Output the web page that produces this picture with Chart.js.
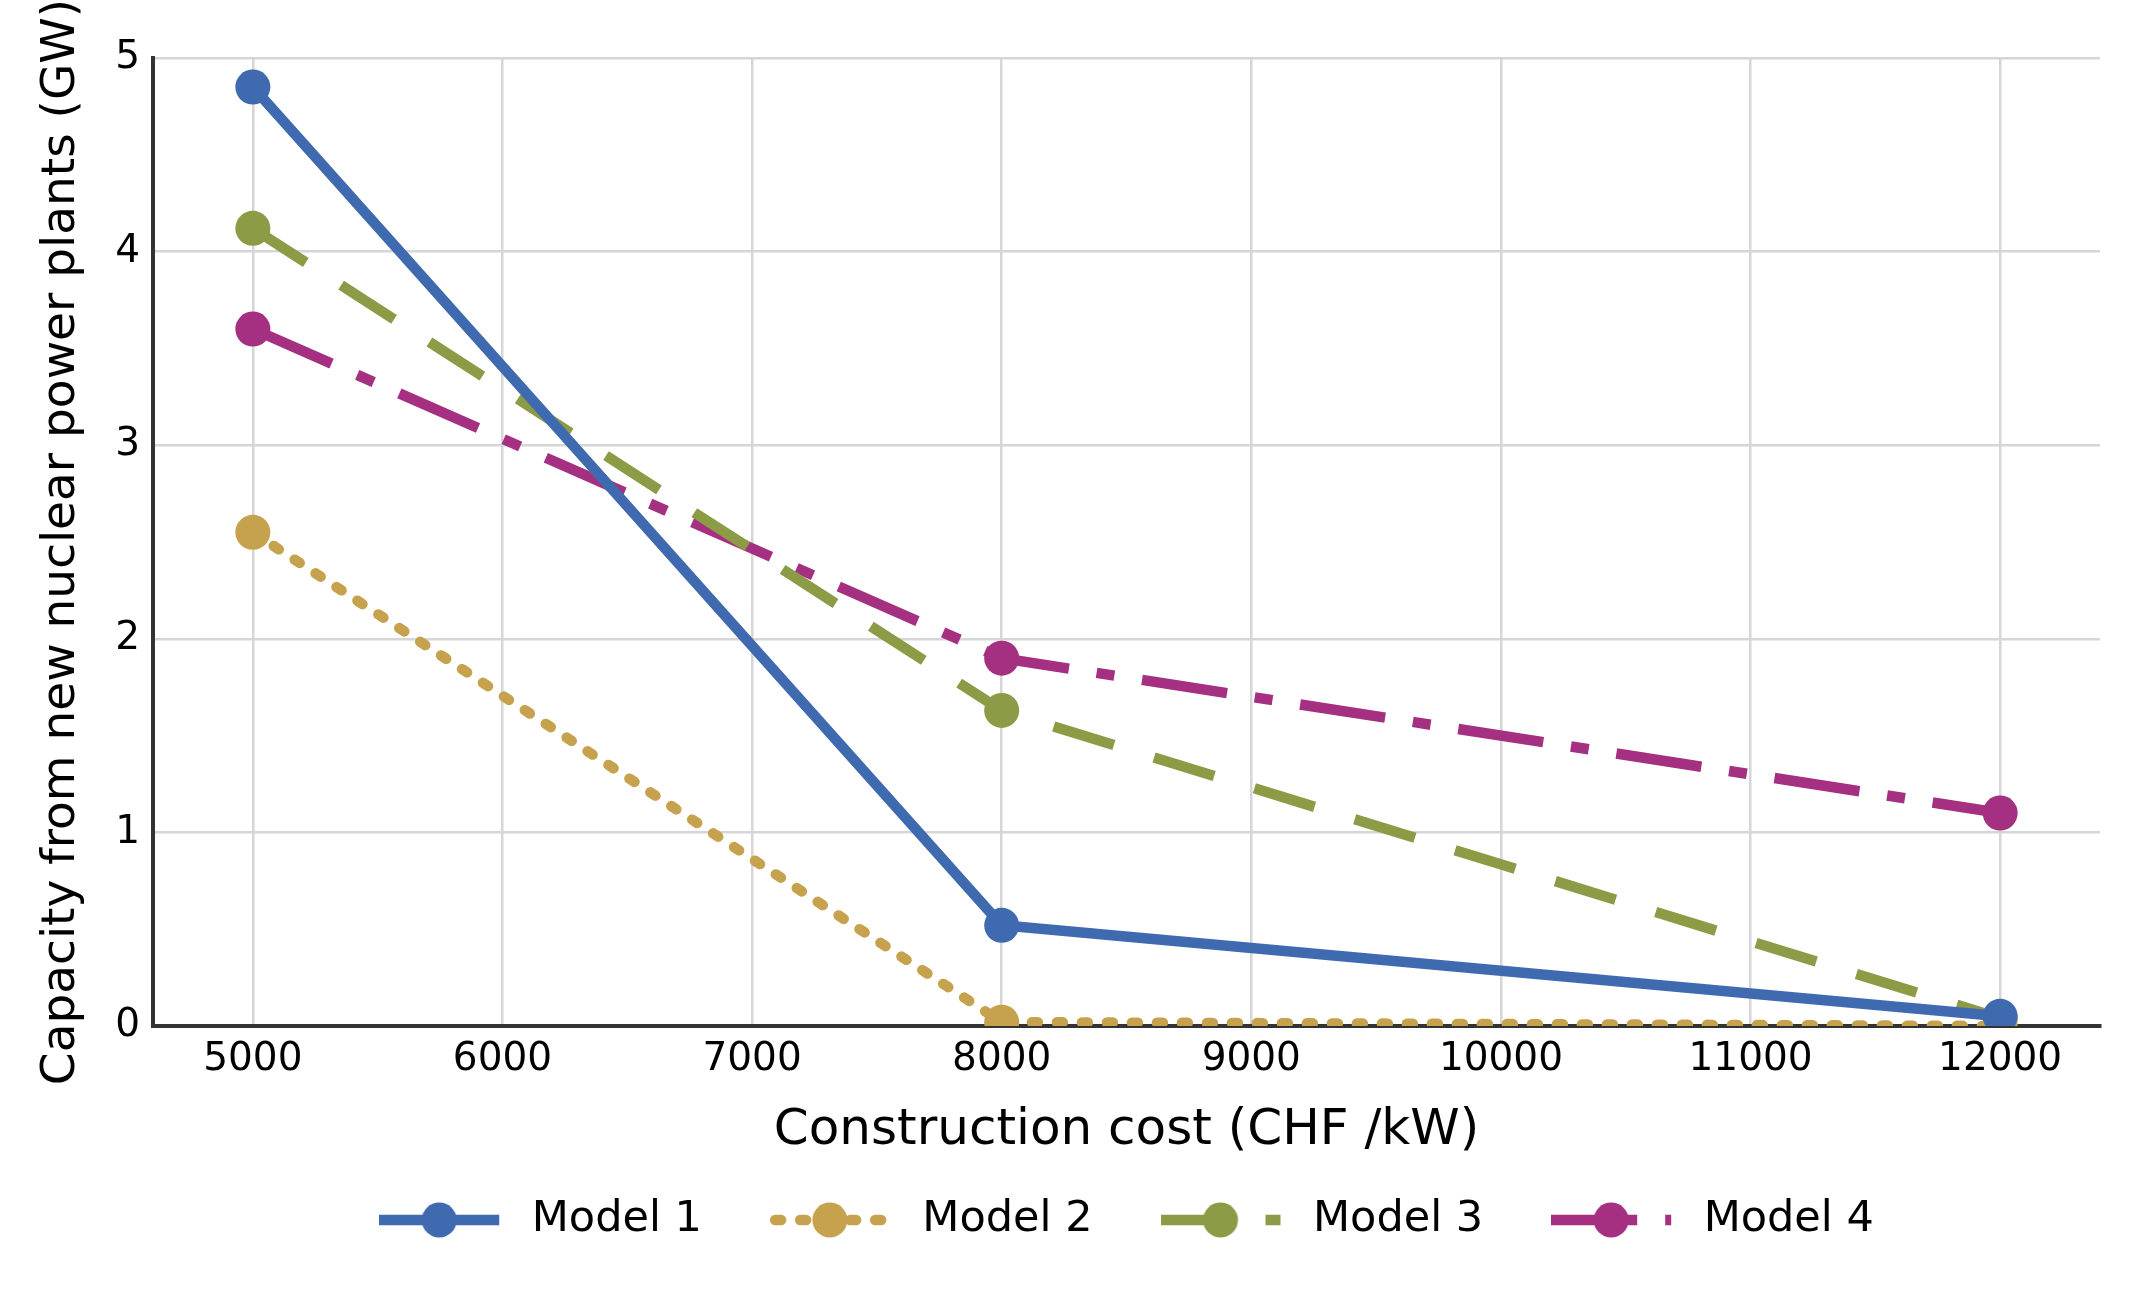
<!DOCTYPE html>
<html>
<head>
<meta charset="utf-8">
<script src="https://cdn.jsdelivr.net/npm/chart.js@4.4.1/dist/chart.umd.min.js"></script>
<style>
  html, body { margin: 0; padding: 0; background: #fff; }
  #chart { display: block; }
</style>
</head>
<body>
<canvas id="chart" width="2142" height="1305" style="width:2142px;height:1305px"></canvas>
<script>
// data
const costs = [5000, 8000, 12000];
const model1 = [4.85, 0.52, 0.05];
const model2 = [2.55, 0.02, 0.0];
const model3 = [4.12, 1.63, 0.04];
const model4 = [3.6, 1.9, 1.1];
const seriesNames = ['Model 1', 'Model 2', 'Model 3', 'Model 4'];
const xTicks = [5000, 6000, 7000, 8000, 9000, 10000, 11000, 12000];
const yTicks = [0, 1, 2, 3, 4, 5];

const colors = ['#3f6ab0', '#c6a24e', '#8c9b45', '#a52f80'];
const dashes = [[], [6, 19], [63, 42], [86, 28, 18, 28]];
const caps = ['butt', 'round', 'butt', 'butt'];
const LINE_W = 10.5;
const MARKER_R = 17.5;
const FONT = '"DejaVu Sans", sans-serif';

// legend handle: line with dash pattern and a marker in the middle
function legendHandle(i) {
  const len = 120, tail = 11;
  const c = document.createElement('canvas');
  c.width = len + tail;
  c.height = 40;
  const g = c.getContext('2d');
  const inset = caps[i] === 'round' ? LINE_W / 2 : 0;
  g.strokeStyle = colors[i];
  g.lineWidth = LINE_W;
  g.lineCap = caps[i];
  g.setLineDash(dashes[i]);
  g.beginPath();
  g.moveTo(inset, 20);
  g.lineTo(len - inset, 20);
  g.stroke();
  g.setLineDash([]);
  g.fillStyle = colors[i];
  g.beginPath();
  g.arc(len / 2, 20, MARKER_R, 0, Math.PI * 2);
  g.fill();
  return c;
}
const handles = seriesNames.map((n, i) => legendHandle(i));

const allSeries = [model1, model2, model3, model4];
const datasets = allSeries.map((vals, i) => ({
  label: seriesNames[i],
  data: costs.map((x, j) => ({x: x, y: vals[j]})),
  borderColor: colors[i],
  backgroundColor: colors[i],
  borderWidth: LINE_W,
  borderDash: dashes[i],
  borderCapStyle: caps[i],
  pointRadius: MARKER_R,
  pointBorderWidth: 0,
  pointBackgroundColor: colors[i],
  tension: 0,
  fill: false
}));

new Chart(document.getElementById('chart'), {
  type: 'line',
  data: { datasets: datasets },
  options: {
    responsive: false,
    animation: false,
    events: [],
    layout: { padding: { top: 58, right: 42, bottom: 53.5, left: 0 } },
    scales: {
      x: {
        type: 'linear',
        min: 4600,
        max: 12400,
        afterBuildTicks: (s) => { s.ticks = xTicks.map(v => ({value: v})); },
        afterFit: (s) => { s.height = 104.5; },
        grid: { color: '#d6d6d6', lineWidth: 2.5, drawTicks: false },
        border: { display: true, color: '#333333', width: 4 },
        ticks: {
          color: '#000',
          padding: 10,
          maxRotation: 0,
          font: { family: FONT, size: 39 },
          callback: (v) => String(v)
        },
        title: {
          display: true,
          text: 'Construction cost (CHF /kW)',
          color: '#000',
          font: { family: FONT, size: 50 },
          padding: { top: 0, bottom: -30.5 }
        }
      },
      y: {
        type: 'linear',
        min: 0,
        max: 5,
        afterBuildTicks: (s) => { s.ticks = yTicks.map(v => ({value: v})); },
        afterFit: (s) => { s.width = 153; },
        grid: { color: '#d6d6d6', lineWidth: 2.5, drawTicks: false },
        border: { display: true, color: '#333333', width: 4 },
        ticks: {
          color: '#000',
          padding: 13,
          font: { family: FONT, size: 39 },
          callback: (v) => String(v)
        },
        title: {
          display: true,
          text: 'Capacity from new nuclear power plants (GW)',
          color: '#000',
          font: { family: FONT, size: 47 },
          padding: { top: 34, bottom: 0 }
        }
      }
    },
    plugins: {
      tooltip: { enabled: false },
      legend: {
        position: 'bottom',
        fullSize: false,
        labels: {
          usePointStyle: true,
          pointStyleWidth: 131,
          padding: 68,
          color: '#000',
          font: { family: FONT, size: 43 },
          generateLabels: (chart) => {
            const items = Chart.defaults.plugins.legend.labels.generateLabels(chart);
            items.forEach((it) => { it.pointStyle = handles[it.datasetIndex]; });
            return items;
          }
        }
      }
    }
  }
});
</script>
</body>
</html>
